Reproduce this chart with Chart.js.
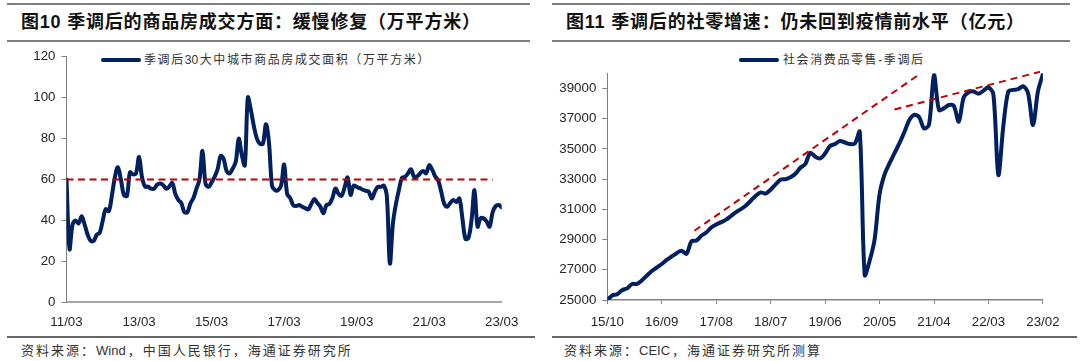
<!DOCTYPE html>
<html><head><meta charset="utf-8">
<script src="https://cdn.jsdelivr.net/npm/chart.js@4/dist/chart.umd.min.js"></script>
<style>
html,body{margin:0;padding:0;background:#fff;}
#root{position:relative;width:1080px;height:361px;overflow:hidden;background:#fff;}
.rule{position:absolute;background:#7f7f7f;}
.title{position:absolute;top:11px;height:23px;line-height:23px;font-size:18px;font-weight:700;color:#111;font-family:"Liberation Sans","Noto Sans CJK SC",sans-serif;letter-spacing:0.8px;white-space:nowrap;}
.src{position:absolute;top:343px;height:16px;line-height:16px;font-size:13px;color:#333;letter-spacing:2px;white-space:nowrap;font-family:"Liberation Sans","Noto Sans CJK SC",sans-serif;}
.leg{position:absolute;top:53px;height:14px;line-height:14px;font-size:12px;color:#333;letter-spacing:1.6px;white-space:nowrap;font-family:"Liberation Sans","Noto Sans CJK SC",sans-serif;}
.lat{letter-spacing:0;margin-right:2px;}
.legline{position:absolute;top:58px;height:4px;background:#002060;border-radius:2px;}
canvas{position:absolute;}
</style></head>
<body>
<div id="root">
  <div class="rule" style="left:7px;top:3px;width:523px;height:2px;"></div>
  <div class="rule" style="left:7px;top:40px;width:523px;height:1.5px;"></div>
  <div class="rule" style="left:7px;top:336px;width:528px;height:2px;background:#666;"></div>
  <div class="title" style="left:21px;">图10 季调后的商品房成交方面：缓慢修复（万平方米）</div>
  <div class="legline" style="left:101px;width:40px;"></div>
  <div class="leg" style="left:144px;">季调后<span class="lat" style="margin-right:1.6px;">30</span>大中城市商品房成交面积（万平方米）</div>
  <canvas id="cL" width="540" height="292" style="left:0;top:42px;"></canvas>
  <div class="src" style="left:21px;">资料来源：<span class="lat">Wind</span>，中国人民银行，海通证券研究所</div>

  <div class="rule" style="left:552px;top:3px;width:518px;height:2px;"></div>
  <div class="rule" style="left:552px;top:40px;width:518px;height:1.5px;"></div>
  <div class="rule" style="left:552px;top:336px;width:525px;height:2px;background:#666;"></div>
  <div class="title" style="left:566px;">图11 季调后的社零增速：仍未回到疫情前水平（亿元）</div>
  <div class="legline" style="left:739px;width:40px;"></div>
  <div class="leg" style="left:783px;">社会消费品零售-季调后</div>
  <canvas id="cR" width="540" height="292" style="left:540px;top:42px;"></canvas>
  <div class="src" style="left:564px;">资料来源：<span class="lat">CEIC</span>，海通证券研究所测算</div>
</div>
<script>
// ---------- Left chart data (monthly, 2011/03 - 2023/03) ----------
const leftStart = [2011, 3];
const leftValues = [
  60,26,38,40,38.5,42,38,33,30,30,
  33,34,40,45.5,44.5,52,61,66,60,52.4,
  52,63.5,62.5,63,71,61,56.5,56.5,55.5,55.5,
  57.5,58,57.2,55.5,56.5,58.3,53,50,48.5,44,
  44,48.3,51,55.5,60,74,58,56.4,58.5,61.3,
  65,71.5,70,64,63,65.4,68.6,80,72,67,
  100,94,86,80,77.5,77.5,87,78,57,54.8,
  54.8,57,67.3,53,51,47.5,47,47.5,46.7,46,
  45.4,48,50.5,48.5,46.7,43.5,47.5,48,51,55.6,
  53,52,56,61,52.5,57,56.4,55.8,55,54.5,
  54,50.7,54,56.4,56.4,57,51.6,19,38.5,48,
  55,60.8,61.3,63,65,61.3,61.5,63,64.2,63,
  67,64.8,61.5,59.5,54,48,46.7,48.6,50,49,
  50.7,41,31,31.5,40,54.8,37,41,41,39.5,
  37,44,47,47.5,46.4
];
const leftTickLabels = ['11/03','13/03','15/03','17/03','19/03','21/03','23/03'];
const leftTickIdx = [0,24,48,72,96,120,144];
const leftYTicks = [0,20,40,60,80,100,120];
const leftRefLevel = 60;
const leftRefIdx = [0, 141];

// ---------- Right chart data (monthly, 2015/10 - 2023/02) ----------
const rightStart = [2015, 10];
const rightValues = [
  25000,25300,25380,25650,25770,26060,26060,26300,26620,26920,
  27150,27380,27650,27880,28100,28260,28050,28880,28930,29250,
  29470,29800,30000,30150,30320,30560,30820,31010,31250,31570,
  31900,32120,32040,32300,32650,32960,32990,33120,33350,33750,
  34000,34740,34480,34370,34700,35190,35320,35520,35420,35320,
  35350,36130,26650,27600,29000,32000,33300,34040,34700,35360,
  36100,36900,37250,37100,36350,36600,39880,37570,37680,37900,
  37850,36800,38400,38750,38800,38650,38850,39070,38600,33270,
  36500,38800,38900,38950,39150,38700,36570,38800,39950
];
const rightTickLabels = ['15/10','16/09','17/08','18/07','19/06','20/05','21/04','22/03','23/02'];
const rightTickIdx = [0,11,22,33,44,55,66,77,88];
const rightYTicks = [25000,27000,29000,31000,33000,35000,37000,39000];
const trend1Idx = [17.6, 62.8], trend1Val = [29580, 39880];
const trend2Idx = [58, 87.4],  trend2Val = [37610, 40100];

// ---------- helpers ----------
function monthLabels(start, n){
  const out=[]; let y=start[0], m=start[1];
  for(let i=0;i<n;i++){ out.push(String(y%100).padStart(2,'0')+'/'+String(m).padStart(2,'0')); m++; if(m>12){m=1;y++;} }
  return out;
}
const leftCategories = monthLabels(leftStart, leftValues.length);
const rightCategories = monthLabels(rightStart, rightValues.length);
const toPts = (vals) => vals.map((v,i)=>({x:i, y:v}));
const pair = (xs, ys) => xs.map((x,i)=>({x:x, y:ys[i]}));

const NAVY = '#002060', RED = '#C00000', AXIS = '#808080', TXT = '#262626';
const tickFont = {family:'"Liberation Sans", Arial, sans-serif', size:13.3};

function makeChart(id, cfg){
  return new Chart(document.getElementById(id), {
    type:'line',
    data:{datasets:cfg.datasets},
    options:{
      responsive:false, animation:false, devicePixelRatio:1,
      layout:{padding:cfg.padding},
      plugins:{legend:{display:false}, tooltip:{enabled:false}},
      elements:{point:{radius:0}},
      scales:{
        x:{
          type:'linear', min:cfg.xMin, max:cfg.xMax,
          afterBuildTicks:s=>{ s.ticks = cfg.xTickIdx.map(v=>({value:v})); },
          afterFit:s=>{ s.height = cfg.xHeight; },
          ticks:{autoSkip:false, maxRotation:0, padding:cfg.xPad, color:TXT, font:tickFont,
                 callback:(v,i)=>cfg.xTickLabels[i]},
          grid:{display:cfg.xTicks, drawOnChartArea:false, drawTicks:cfg.xTicks, tickLength:4, color:AXIS},
          border:{display:true, color:cfg.xAxisColor, width:cfg.xAxisWidth}
        },
        y:{
          min:cfg.yMin, max:cfg.yMax,
          afterBuildTicks:s=>{ s.ticks = cfg.yTicks.map(v=>({value:v})); },
          afterFit:s=>{ s.width = cfg.yWidth; },
          ticks:{padding:6, color:TXT, font:tickFont, callback:v=>String(v)},
          grid:{display:true, drawOnChartArea:false, drawTicks:true, tickLength:5, color:AXIS},
          border:{display:true, color:AXIS, width:1}
        }
      }
    }
  });
}

makeChart('cL', {
  datasets:[
    {label:'季调后30大中城市商品房成交面积（万平方米）', data:toPts(leftValues), borderColor:NAVY, borderWidth:4,
     tension:0.35, fill:false, order:1, borderCapStyle:'round', borderJoinStyle:'round'},
    {label:'60', data:pair(leftRefIdx,[leftRefLevel,leftRefLevel]), borderColor:RED, borderWidth:2,
     borderDash:[7,4.5], fill:false, order:0}
  ],
  padding:{top:14.7, right:38.3, left:0, bottom:0},
  xMin:0, xMax:leftValues.length-1, xTickIdx:leftTickIdx, xTickLabels:leftTickLabels,
  xHeight:31.7, xPad:12, xTicks:false, xAxisColor:'#A6A6A6', xAxisWidth:2,
  yMin:0, yMax:120, yTicks:leftYTicks, yWidth:66.5
});

makeChart('cR', {
  datasets:[
    {label:'社会消费品零售-季调后', data:toPts(rightValues), borderColor:NAVY, borderWidth:4,
     tension:0.3, fill:false, order:1, borderCapStyle:'round', borderJoinStyle:'round'},
    {label:'trend1', data:pair(trend1Idx,trend1Val), borderColor:RED, borderWidth:2,
     borderDash:[7,5], fill:false, order:0, clip:false},
    {label:'trend2', data:pair(trend2Idx,trend2Val), borderColor:RED, borderWidth:2,
     borderDash:[7,5], fill:false, order:0, clip:false}
  ],
  padding:{top:31.3, right:37.1, left:0, bottom:0},
  xMin:0, xMax:rightValues.length-1, xTickIdx:rightTickIdx, xTickLabels:rightTickLabels,
  xHeight:34, xPad:10, xTicks:true, xAxisColor:AXIS, xAxisWidth:1.5,
  yMin:25000, yMax:40000, yTicks:rightYTicks, yWidth:67.3
});
</script>
</body></html>
